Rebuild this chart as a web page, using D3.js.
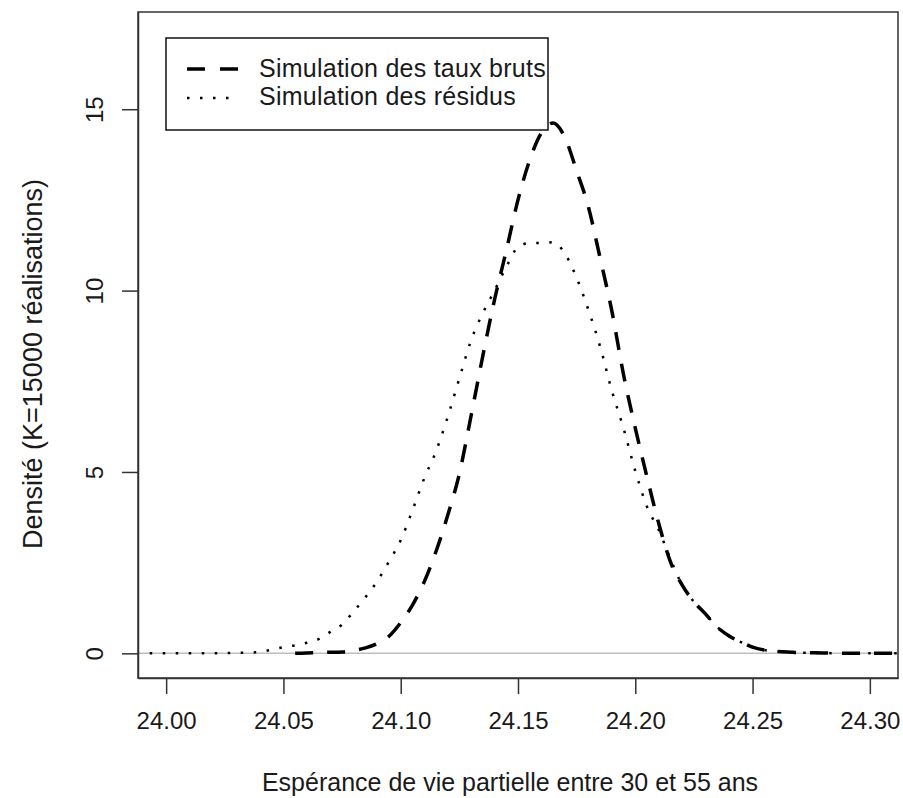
<!DOCTYPE html>
<html>
<head>
<meta charset="utf-8">
<script src="https://cdn.jsdelivr.net/npm/d3@7"></script>
<style>
  html, body { margin: 0; padding: 0; background: #fff; }
  svg text { font-family: "Liberation Sans", Arial, Helvetica, sans-serif; fill: #1a1a1a; }
</style>
</head>
<body>
<svg id="chart" width="903" height="798"></svg>
<script>
// Density estimates of partial life expectancy between ages 30 and 55
const tauxBrutsX = [24.055, 24.060, 24.065, 24.070, 24.075, 24.080, 24.085, 24.090, 24.095, 24.100,
  24.105, 24.110, 24.115, 24.120, 24.125, 24.130, 24.135, 24.140, 24.145, 24.150,
  24.155, 24.160, 24.165, 24.170, 24.175, 24.180, 24.185, 24.190, 24.195, 24.200,
  24.205, 24.210, 24.215, 24.220, 24.225, 24.230, 24.235, 24.240, 24.245, 24.250,
  24.255, 24.260, 24.265, 24.270, 24.280, 24.290, 24.300, 24.315];
const tauxBrutsY = [0.00, 0.01, 0.02, 0.03, 0.04, 0.08, 0.15, 0.27, 0.47, 0.85,
  1.33, 1.97, 2.80, 3.80, 4.95, 6.55, 8.20, 9.75, 11.10, 12.50,
  13.60, 14.35, 14.62, 14.22, 13.30, 12.31, 10.90, 9.44, 7.68, 6.21,
  4.86, 3.58, 2.52, 1.88, 1.42, 1.08, 0.72, 0.48, 0.31, 0.17,
  0.09, 0.05, 0.04, 0.02, 0.01, 0.00, 0.00, 0.00];

const residusX = [23.993, 24.000, 24.005, 24.010, 24.015, 24.020, 24.025, 24.030, 24.035, 24.040,
  24.045, 24.050, 24.055, 24.060, 24.065, 24.070, 24.075, 24.080, 24.085, 24.090,
  24.095, 24.100, 24.105, 24.110, 24.115, 24.120, 24.125, 24.130, 24.135, 24.140,
  24.145, 24.150, 24.155, 24.160, 24.165, 24.170, 24.175, 24.180, 24.185, 24.190,
  24.195, 24.200, 24.205, 24.210, 24.215, 24.220, 24.225, 24.230, 24.235, 24.240,
  24.245, 24.250, 24.255, 24.260, 24.265, 24.270, 24.280, 24.290, 24.300, 24.315];
const residusY = [0.00, 0.00, 0.00, 0.00, 0.00, 0.00, 0.005, 0.01, 0.02, 0.04,
  0.10, 0.17, 0.22, 0.29, 0.39, 0.59, 0.79, 1.16, 1.55, 1.99,
  2.53, 3.12, 3.94, 4.82, 5.56, 6.51, 7.58, 8.63, 9.38, 10.00,
  10.65, 11.20, 11.31, 11.31, 11.33, 11.02, 10.35, 9.47, 8.46, 7.24,
  6.20, 5.03, 4.04, 3.40, 2.60, 1.88, 1.42, 1.08, 0.72, 0.48,
  0.31, 0.17, 0.09, 0.05, 0.04, 0.02, 0.01, 0.00, 0.00, 0.00];

const xTicks = [24.00, 24.05, 24.10, 24.15, 24.20, 24.25, 24.30];
const yTicks = [0, 5, 10, 15];
const legendLabels = ["Simulation des taux bruts", "Simulation des résidus"];
const xTitle = "Espérance de vie partielle entre 30 et 55 ans";
const yTitle = "Densité (K=15000 réalisations)";

// plot region and axis limits (4% padding around the data ranges)
const box = { left: 138, right: 898, top: 12, bottom: 678 };
const xLim = [24.0, 24.3], yLim = [0, 17];
const pad = (l) => { const d = (l[1] - l[0]) * 0.04; return [l[0] - d, l[1] + d]; };

const svg = d3.select("#chart");
const x = d3.scaleLinear().domain(pad(xLim)).range([box.left, box.right]);
const y = d3.scaleLinear().domain(pad(yLim)).range([box.bottom, box.top]);

svg.append("defs").append("clipPath").attr("id", "plotClip")
  .append("rect")
  .attr("x", box.left).attr("y", box.top)
  .attr("width", box.right - box.left).attr("height", box.bottom - box.top);

const plot = svg.append("g").attr("clip-path", "url(#plotClip)");

// zero reference line
plot.append("line")
  .attr("x1", box.left).attr("x2", box.right)
  .attr("y1", y(0)).attr("y2", y(0))
  .attr("stroke", "#bebebe").attr("stroke-width", 1.5);

const line = d3.line().x(d => x(d[0])).y(d => y(d[1])).curve(d3.curveMonotoneX);

const styles = [
  { dash: "18,14", width: 3.5, cap: "butt" },
  { dash: "2.5,10.5", width: 2.5, cap: "butt" }
];

plot.append("path")
  .datum(d3.zip(tauxBrutsX, tauxBrutsY))
  .attr("d", line)
  .attr("fill", "none").attr("stroke", "#000")
  .attr("stroke-width", styles[0].width)
  .attr("stroke-dasharray", styles[0].dash)
  .attr("stroke-linecap", styles[0].cap);

plot.append("path")
  .datum(d3.zip(residusX, residusY))
  .attr("d", line)
  .attr("fill", "none").attr("stroke", "#000")
  .attr("stroke-width", styles[1].width)
  .attr("stroke-dasharray", styles[1].dash)
  .attr("stroke-linecap", styles[1].cap);

// axes
const xAxis = svg.append("g")
  .attr("transform", `translate(0,${box.bottom})`)
  .call(d3.axisBottom(x).tickValues(xTicks).tickFormat(d3.format(".2f"))
    .tickSize(16).tickSizeOuter(0).tickPadding(18));
const yAxis = svg.append("g")
  .attr("transform", `translate(${box.left},0)`)
  .call(d3.axisLeft(y).tickValues(yTicks).tickFormat(d3.format("d"))
    .tickSize(16).tickSizeOuter(0));

[xAxis, yAxis].forEach(g => {
  g.selectAll("path.domain").attr("stroke", "#333").attr("stroke-width", 1.5);
  g.selectAll(".tick line").attr("stroke", "#333").attr("stroke-width", 1.5);
  g.selectAll("text").attr("font-size", 24).attr("fill", "#1a1a1a")
    .style("font-family", '"Liberation Sans", Arial, sans-serif');
});

// y tick labels run parallel to the axis
yAxis.selectAll(".tick text")
  .attr("x", null).attr("dy", null)
  .attr("text-anchor", "middle")
  .attr("transform", "translate(-35,0) rotate(-90)");

// plot frame
svg.append("rect")
  .attr("x", box.left).attr("y", box.top)
  .attr("width", box.right - box.left).attr("height", box.bottom - box.top)
  .attr("fill", "none").attr("stroke", "#333").attr("stroke-width", 1.5);

// axis titles
svg.append("text")
  .attr("x", 510).attr("y", 791)
  .attr("text-anchor", "middle").attr("font-size", 25)
  .text(xTitle);
svg.append("text")
  .attr("transform", "translate(42,364) rotate(-90)")
  .attr("text-anchor", "middle").attr("font-size", 27)
  .text(yTitle);

// legend
const leg = svg.append("g");
leg.append("rect")
  .attr("x", 166).attr("y", 38).attr("width", 382).attr("height", 92)
  .attr("fill", "#fff").attr("stroke", "#111").attr("stroke-width", 1.5);
const legRows = [
  { y: 69, len: 53, base: 77 },
  { y: 98, len: 42, base: 105 }
];
legRows.forEach((r, i) => {
  leg.append("line")
    .attr("x1", 187).attr("x2", 187 + r.len)
    .attr("y1", r.y).attr("y2", r.y)
    .attr("stroke", "#000")
    .attr("stroke-width", styles[i].width)
    .attr("stroke-dasharray", i === 0 ? "18,15" : "2.5,10.5");
  leg.append("text")
    .attr("x", 259).attr("y", r.base)
    .attr("font-size", 25)
    .attr("letter-spacing", 0.25)
    .text(legendLabels[i]);
});
</script>
</body>
</html>
